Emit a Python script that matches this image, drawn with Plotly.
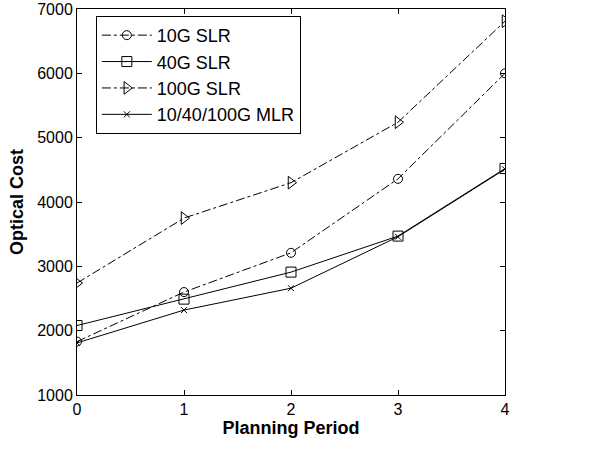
import plotly.graph_objects as go

periods = [0, 1, 2, 3, 4]
slr10 = [1830, 2600, 3210, 4360, 6000]
slr40 = [2080, 2490, 2910, 3470, 4520]
slr100 = [2740, 3750, 4300, 5240, 6810]
mlr = [1810, 2320, 2660, 3460, 4510]

series = [
    ("10G SLR", slr10, "circle-open", "dashdot", 9),
    ("40G SLR", slr40, "square-open", "solid", 10),
    ("100G SLR", slr100, "triangle-right-open", "dashdot", 11),
    ("10/40/100G MLR", mlr, "x-thin-open", "solid", 6),
]

FONT = "Arial, Liberation Sans, sans-serif"

fig = go.Figure()
for name, vals, sym, dash, sz in series:
    fig.add_trace(go.Scatter(
        x=periods, y=vals, name=name, mode="lines+markers",
        line=dict(color="black", width=1, dash=dash),
        marker=dict(symbol=sym, size=sz, color="black", line=dict(color="black", width=1)),
    ))

axis_common = dict(
    showline=True, linecolor="black", linewidth=1, mirror="ticks",
    ticks="inside", ticklen=5, tickcolor="black", showgrid=False, zeroline=False,
    automargin=False,
    tickfont=dict(family=FONT, size=16, color="black"),
)
fig.update_xaxes(range=[0, 4], dtick=1,
                 title=dict(text="<b>Planning Period</b>", font=dict(family=FONT, size=18, color="black"), standoff=3),
                 **axis_common)
fig.update_yaxes(range=[1000, 7000], dtick=1000,
                 title=dict(text="<b>Optical Cost</b>", font=dict(family=FONT, size=18, color="black"), standoff=8),
                 **axis_common)

fig.update_layout(
    width=607, height=450,
    margin=dict(l=77, r=102, t=9, b=55, pad=0),
    plot_bgcolor="white", paper_bgcolor="white",
    legend=dict(x=0.044, y=0.982, xanchor="left", yanchor="top",
                bgcolor="white", bordercolor="black", borderwidth=1,
                font=dict(family=FONT, size=18, color="black"),
                itemwidth=50, tracegroupgap=0),
    showlegend=True,
)

fig.write_html("out.html", config={"displayModeBar": False},
               post_script="document.body.style.margin='0';document.body.style.overflow='hidden';")
